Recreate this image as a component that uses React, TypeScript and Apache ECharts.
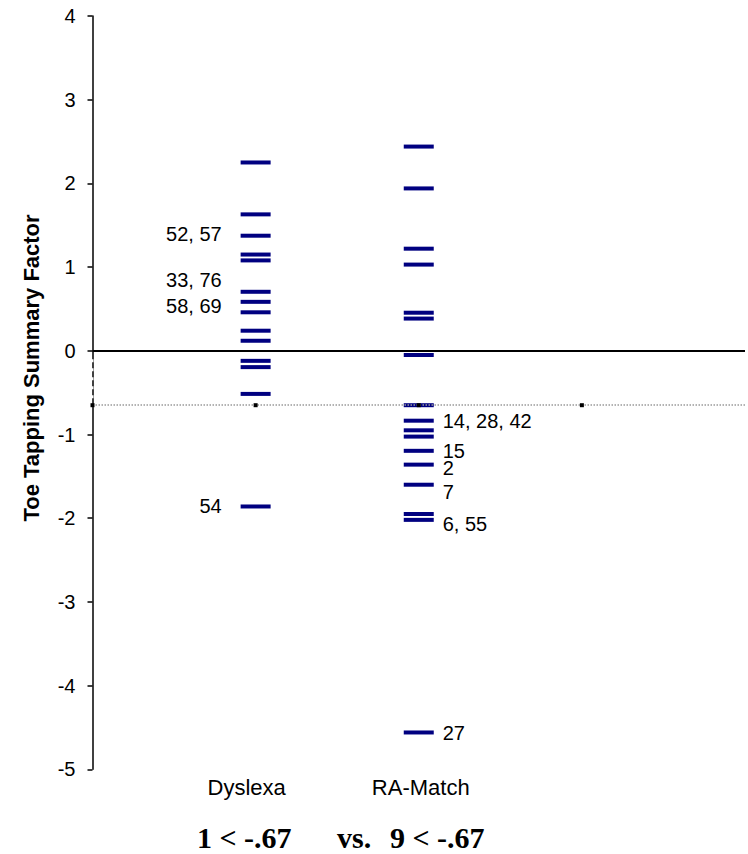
import React, { useEffect, useRef } from "react";
import * as echarts from "echarts";

// Group names (x positions 1 and 2)
const groups = ["Dyslexa", "RA-Match"];

// Toe tapping summary factor values per group
const dyslexaValues = [2.25, 1.63, 1.375, 1.15, 1.08, 0.705, 0.585, 0.46, 0.24, 0.12, -0.12, -0.195, -0.515, -1.86];
const raMatchValues = [2.44, 1.94, 1.22, 1.03, 0.455, 0.385, -0.05, -0.65, -0.835, -0.95, -1.025, -1.195, -1.36, -1.6, -1.95, -2.02, -4.56];

// Subject id annotations: [value position, text]
const dyslexaNotes: [number, string][] = [
  [1.395, "52, 57"],
  [0.84, "33, 76"],
  [0.54, "58, 69"],
  [-1.855, "54"],
];
const raMatchNotes: [number, string][] = [
  [-0.84, "14, 28, 42"],
  [-1.2, "15"],
  [-1.395, "2"],
  [-1.69, "7"],
  [-2.07, "6, 55"],
  [-4.565, "27"],
];

// Cut-off line and its marker positions
const cutoff = -0.65;
const cutoffMarkers = [0, 1, 2, 3];

// Y axis range
const yMin = -5;
const yMax = 4;

const SANS = "'Liberation Sans', Arial, sans-serif";
const SERIF = "'Liberation Serif', 'Times New Roman', serif";

export default function App() {
  const ref = useRef<HTMLDivElement>(null);

  useEffect(() => {
    document.body.style.margin = "0";
    if (!ref.current) return;
    const chart = echarts.init(ref.current, null, { renderer: "svg" });
    const barColor = "#000080";

    const noteLabel = {
      show: true,
      fontFamily: SANS,
      fontSize: 20,
      color: "#000",
      opacity: 1,
      formatter: (p: any) => p.data[2],
    };

    const catStyle = { fontFamily: SANS, fontSize: 22, color: "#000" };

    const option: any = {
      animation: false,
      backgroundColor: "#ffffff",
      grid: { left: 92.5, right: -4.5, top: 16, bottom: 84.7, containLabel: false },
      xAxis: {
        type: "value",
        min: 0,
        max: 4,
        interval: 1,
        axisLine: { show: false },
        axisTick: { show: false },
        splitLine: { show: false },
        axisLabel: {
          ...catStyle,
          margin: 7,
          formatter: (v: number) =>
            v === 1 ? `{a|${groups[0]}}` : v === 2 ? `{b|${groups[1]}}` : "",
          rich: {
            a: { ...catStyle, padding: [0, 18, 0, 0] },
            b: { ...catStyle, padding: [0, 0, 0, 4] },
          },
        },
      },
      yAxis: {
        type: "value",
        min: yMin,
        max: yMax,
        interval: 1,
        axisLine: { show: true, onZero: false, lineStyle: { color: "#000", width: 1.5 } },
        axisTick: { show: true, inside: false, length: 5, lineStyle: { color: "#000", width: 1.5 } },
        splitLine: { show: false },
        axisLabel: { fontFamily: SANS, fontSize: 20, color: "#000", margin: 17 },
      },
      series: [
        {
          type: "line",
          data: [[0, -0.1], [0, -0.6]],
          symbol: "none",
          silent: true,
          z: 3,
          lineStyle: { color: "#ffffff", width: 2, type: [3, 6] },
        },
        {
          type: "scatter",
          name: groups[0],
          data: dyslexaValues.map((v) => [1, v]),
          symbol: "rect",
          symbolSize: [30, 4],
          itemStyle: { color: barColor, opacity: 1 },
          z: 4,
          markLine: {
            silent: true,
            symbol: "none",
            label: { show: false },
            data: [
              { yAxis: 0, lineStyle: { color: "#000", width: 2, type: "solid", opacity: 1 } },
              { yAxis: cutoff, lineStyle: { color: "#9a9a9a", width: 1.5, type: [1.5, 1.5], opacity: 1 } },
            ],
          },
        },
        {
          type: "scatter",
          name: groups[1],
          data: raMatchValues.map((v) => [2, v]),
          symbol: "rect",
          symbolSize: [30, 4],
          itemStyle: { color: barColor, opacity: 1 },
          z: 4,
        },
        {
          type: "scatter",
          data: cutoffMarkers.map((x) => [x, cutoff]),
          symbol: "rect",
          symbolSize: 4,
          itemStyle: { color: "#000", opacity: 1 },
          z: 5,
        },
        {
          type: "scatter",
          data: dyslexaNotes.map(([y, t]) => [1, y, t]),
          symbolSize: 0,
          silent: true,
          itemStyle: { opacity: 1 },
          label: { ...noteLabel, position: "left", distance: 34 },
        },
        {
          type: "scatter",
          data: raMatchNotes.map(([y, t]) => [2, y, t]),
          symbolSize: 0,
          silent: true,
          itemStyle: { opacity: 1 },
          label: { ...noteLabel, position: "right", distance: 24 },
        },
      ],
      graphic: [
        {
          type: "text",
          x: 31,
          y: 368,
          rotation: Math.PI / 2,
          style: {
            text: "Toe Tapping Summary Factor",
            font: `bold 22px ${SANS}`,
            fill: "#000",
            textAlign: "center",
            textVerticalAlign: "middle",
          },
        },
        {
          type: "text",
          x: 197,
          y: 837,
          style: { text: "1 < -.67", font: `bold 30px ${SERIF}`, fill: "#000", textAlign: "left", textVerticalAlign: "middle" },
        },
        {
          type: "text",
          x: 337,
          y: 837,
          style: { text: "vs.", font: `bold 30px ${SERIF}`, fill: "#000", textAlign: "left", textVerticalAlign: "middle" },
        },
        {
          type: "text",
          x: 390,
          y: 837,
          style: { text: "9 < -.67", font: `bold 30px ${SERIF}`, fill: "#000", textAlign: "left", textVerticalAlign: "middle" },
        },
      ],
    };

    chart.setOption(option);
    return () => chart.dispose();
  }, []);

  return <div ref={ref} style={{ width: 748, height: 854 }} />;
}
